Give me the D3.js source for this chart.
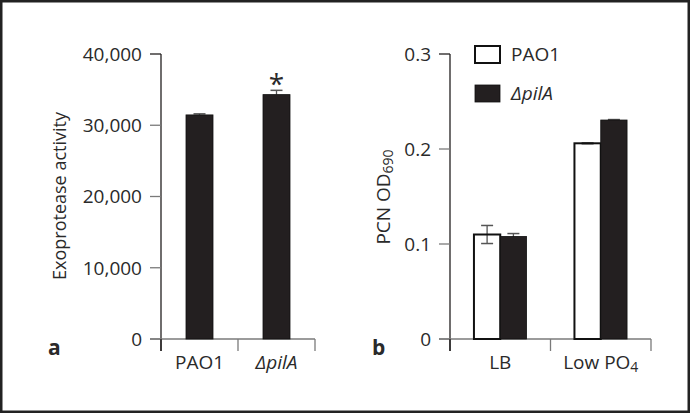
<!DOCTYPE html>
<html><head><meta charset="utf-8">
<script src="https://cdn.jsdelivr.net/npm/d3@7"></script>
<style>
body{margin:0;background:#fff;}
svg text{font-family:"Open Sans",sans-serif;fill:#2a2a2a;}
</style></head>
<body><svg id="c" width="691" height="414"></svg>
<script>
// Panel a data
const catsA = ["PAO1", "ΔpilA"];
const valsA = [31450, 34300];
const errA = [150, 600];
const ticksA = [0, 10000, 20000, 30000, 40000];
// Panel b data
const groupsB = ["LB", "Low PO4"];
const seriesB = ["PAO1", "ΔpilA"];
const pao1B = [0.110, 0.206];
const pilAB = [0.108, 0.2305];
const errPao1B = [0.0095, 0.0005];
const errPilAB = [0.003, 0.0005];
const ticksB = [0, 0.1, 0.2, 0.3];

const svg = d3.select("#c");
const dark = "#231f20", grey = "#7a7a7a";

// frame
svg.append("rect").attr("x",1.25).attr("y",1.25).attr("width",687.5).attr("height",410.5)
  .attr("fill","none").attr("stroke","#222").attr("stroke-width",2.5);

// ---------- Panel a ----------
const yA = d3.scaleLinear().domain([0,40000]).range([339,54]);
const xA = d3.scaleBand().domain(catsA).range([161,315]).paddingInner(0).paddingOuter(0);
const gA = svg.append("g");
const fmt = d3.format(",");
gA.append("line").attr("x1",161).attr("x2",161).attr("y1",yA(40000)).attr("y2",351).attr("stroke",dark).attr("stroke-width",1.3);
ticksA.forEach(t=>{
  gA.append("line").attr("x1",150).attr("x2",161).attr("y1",yA(t)).attr("y2",yA(t)).attr("stroke",t===40000?dark:grey).attr("stroke-width",1.3);
  gA.append("text").attr("x",142).attr("y",yA(t)).attr("dy","0.36em").attr("text-anchor","end").attr("font-size",19).text(fmt(t));
});
gA.append("line").attr("x1",150).attr("x2",315).attr("y1",yA(0)).attr("y2",yA(0)).attr("stroke",grey).attr("stroke-width",1.5);
[161, xA("ΔpilA"), 315].forEach(x=>{
  gA.append("line").attr("x1",x).attr("x2",x).attr("y1",yA(0)).attr("y2",351).attr("stroke",x===161?dark:grey).attr("stroke-width",1.3);
});
const bwA = 27;
catsA.forEach((c,i)=>{
  const cx = xA(c)+xA.bandwidth()/2;
  gA.append("line").attr("x1",cx).attr("x2",cx).attr("y1",yA(valsA[i])).attr("y2",yA(valsA[i]+errA[i])).attr("stroke","#555").attr("stroke-width",1.3);
  gA.append("line").attr("x1",cx-6).attr("x2",cx+6).attr("y1",yA(valsA[i]+errA[i])).attr("y2",yA(valsA[i]+errA[i])).attr("stroke","#555").attr("stroke-width",1.5);
  gA.append("rect").attr("x",cx-bwA/2).attr("y",yA(valsA[i])).attr("width",bwA).attr("height",yA(0)-yA(valsA[i])).attr("fill",dark).attr("stroke","#111").attr("stroke-width",0.8);
  const t = gA.append("text").attr("x",cx).attr("y",369).attr("text-anchor","middle").attr("font-size",19);
  if (c==="ΔpilA") t.attr("font-style","italic");
  t.text(c);
});
gA.append("text").attr("x",xA("ΔpilA")+xA.bandwidth()/2).attr("y",yA(valsA[1]+errA[1])+4).attr("text-anchor","middle").attr("font-size",28).text("*");
gA.append("text").attr("transform","translate(66,196) rotate(-90)").attr("text-anchor","middle").attr("font-size",18).text("Exoprotease activity");
gA.append("text").attr("x",48).attr("y",355).attr("font-size",21).attr("font-weight","bold").text("a");

// ---------- Panel b ----------
const yB = d3.scaleLinear().domain([0,0.3]).range([339,54]);
const xB = d3.scaleBand().domain(groupsB).range([450,651]);
const xS = d3.scaleBand().domain(seriesB).range([0,52.6]);
const gB = svg.append("g");
gB.append("line").attr("x1",450).attr("x2",450).attr("y1",yB(0.3)).attr("y2",351).attr("stroke",dark).attr("stroke-width",1.3);
ticksB.forEach(t=>{
  gB.append("line").attr("x1",439).attr("x2",450).attr("y1",yB(t)).attr("y2",yB(t)).attr("stroke",t===0.3?dark:grey).attr("stroke-width",1.3);
  gB.append("text").attr("x",431).attr("y",yB(t)).attr("dy","0.36em").attr("text-anchor","end").attr("font-size",19).text(t===0?"0":d3.format(".1f")(t));
});
gB.append("line").attr("x1",439).attr("x2",651).attr("y1",yB(0)).attr("y2",yB(0)).attr("stroke",grey).attr("stroke-width",1.5);
[450, xB("Low PO4"), 651].forEach(x=>{
  gB.append("line").attr("x1",x).attr("x2",x).attr("y1",yB(0)).attr("y2",351).attr("stroke",x===450?dark:grey).attr("stroke-width",1.3);
});
groupsB.forEach((g,i)=>{
  const cx = xB(g)+xB.bandwidth()/2;
  const x0 = cx-26.3;
  const data = [{s:"PAO1",v:pao1B[i],e:errPao1B[i]},{s:"ΔpilA",v:pilAB[i],e:errPilAB[i]}];
  data.forEach(d=>{
    const bx = x0+xS(d.s);
    const mx = bx+xS.bandwidth()/2;
    gB.append("line").attr("x1",mx).attr("x2",mx).attr("y1",yB(d.v-d.e)).attr("y2",yB(d.v+d.e)).attr("stroke","#555").attr("stroke-width",1.3);
    gB.append("line").attr("x1",mx-6).attr("x2",mx+6).attr("y1",yB(d.v+d.e)).attr("y2",yB(d.v+d.e)).attr("stroke","#555").attr("stroke-width",1.5);
    gB.append("line").attr("x1",mx-6).attr("x2",mx+6).attr("y1",yB(d.v-d.e)).attr("y2",yB(d.v-d.e)).attr("stroke","#555").attr("stroke-width",1.5);
    gB.append("rect").attr("x",bx).attr("y",yB(d.v)).attr("width",xS.bandwidth()).attr("height",yB(0)-yB(d.v))
      .attr("fill",d.s==="PAO1"?"none":dark).attr("stroke","#111").attr("stroke-width",d.s==="PAO1"?2:0.8);
  });
});
gB.append("text").attr("x",xB("LB")+xB.bandwidth()/2).attr("y",369).attr("text-anchor","middle").attr("font-size",19).text("LB");
const lp = gB.append("text").attr("x",xB("Low PO4")+xB.bandwidth()/2).attr("y",369).attr("text-anchor","middle").attr("font-size",19);
lp.append("tspan").text("Low PO");
lp.append("tspan").attr("font-size",14).attr("dy",3).text("4");
const yl = gB.append("text").attr("transform","translate(390,197) rotate(-90)").attr("text-anchor","middle").attr("font-size",19);
yl.append("tspan").text("PCN OD");
yl.append("tspan").attr("font-size",14).attr("dy",3).text("690");
gB.append("text").attr("x",372).attr("y",355).attr("font-size",21).attr("font-weight","bold").text("b");
seriesB.forEach((s,i)=>{
  const ly = 46 + i*39;
  gB.append("rect").attr("x",475).attr("y",ly).attr("width",25).attr("height",17)
    .attr("fill",s==="PAO1"?"#fff":dark).attr("stroke","#111").attr("stroke-width",s==="PAO1"?2:0.8);
  const t = gB.append("text").attr("x",511).attr("y",ly+8.5).attr("dy","0.36em").attr("font-size",19).text(s);
  if (s==="ΔpilA") t.attr("font-style","italic");
});
</script></body></html>
